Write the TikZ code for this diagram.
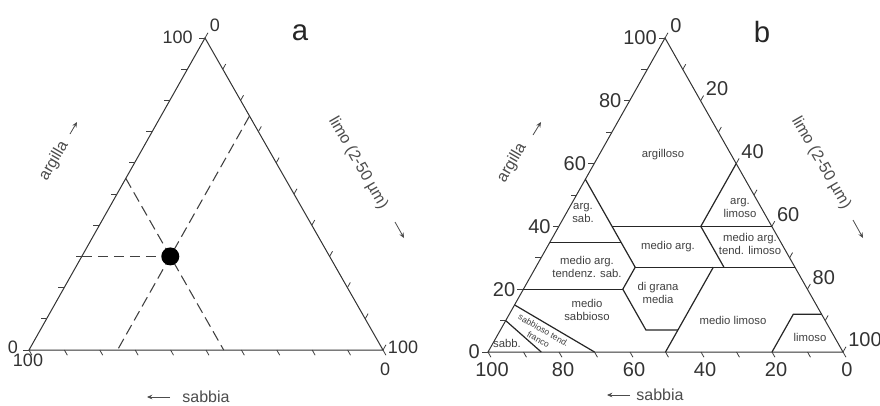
\documentclass[tikz,border=0pt]{standalone}
\usepackage{fontspec}
\setmainfont{Liberation Sans}
\usetikzlibrary{arrows.meta}
\begin{document}
\begin{tikzpicture}[x=0.75pt,y=-0.75pt,
  side/.style={draw=black!80, line width=0.75pt},
  tickmark/.style={draw=black!75, line width=0.6pt},
  zone/.style={draw=black!85, line width=0.9pt},
  guide/.style={draw=black!75, line width=0.8pt, dash pattern=on 8pt off 4pt},
  numA/.style={font=\fontsize{13.5}{14}\selectfont, text=black!80, inner sep=0pt},
  numB/.style={font=\fontsize{15}{16}\selectfont, text=black!80, inner sep=0pt},
  axlab/.style={font=\fontsize{12}{13}\selectfont, text=black!70, inner sep=0pt},
  zlab/.style={font=\fontsize{8.5}{10}\selectfont, text=black!75, align=center, inner sep=0pt},
  axarrow/.style={draw=black!70, line width=0.6pt, -{Stealth[length=4pt,width=3.5pt]}},
  panel/.style={font=\fontsize{22}{24}\selectfont, text=black!85, inner sep=0pt}
]
\path[use as bounding box, fill=white] (0,0) rectangle (880,405);

% ---------------- panel a ----------------
\begin{scope}[shift={(29,350)}, x={(2.655pt,0pt)}, y={(1.32pt,2.34pt)}]
  \coordinate (aL) at (0,0);
  \coordinate (aR) at (100,0);
  \coordinate (aT) at (0,100);
  \draw[side] (aL) -- (aR) -- (aT) -- cycle;
  \foreach \v in {0,10,...,100} {
    \pgfmathtruncatemacro\c{100-\v}
    \draw[tickmark] (0,\v) -- ++(-4.5pt,0pt);
    \draw[tickmark] (\v,\c) -- ++(2.2pt,3.9pt);
    \draw[tickmark] (\v,0) -- ++(2.2pt,-3.9pt);
  }
  \coordinate (P) at (25,30);
  \coordinate (g1) at (0,30);
  \coordinate (g2a) at (0,55);
  \coordinate (g2b) at (55,0);
  \coordinate (g3a) at (25,75);
  \coordinate (g3b) at (25,0);
  \draw[guide] (g1) -- (P);
  \draw[guide] (g2a) -- (g2b);
  \draw[guide] (g3a) -- (g3b);
  \fill[black] (P) circle (6.75pt);
\end{scope}
\node[numA, anchor=east] (a100t) at (193,37) {100};
\node[numA] (a0t) at (215,25) {0};
\node[numA] (a0l) at (13,347) {0};
\node[numA] (a100l) at (28,360) {100};
\node[numA] (a100r) at (403,347) {100};
\node[numA] (a0r) at (385,369) {0};
\node[panel, anchor=base] (pa) at (300,40) {a};
\node[axlab, rotate=60] (aarg) at (54,161) {argilla};
\coordinate (aarg1) at (70,134); \coordinate (aarg2) at (77,122);
\draw[axarrow] (aarg1) -- (aarg2);
\node[axlab, rotate=-60] (alim) at (358,163) {limo (2-50 µm)};
\coordinate (alim1) at (395,222); \coordinate (alim2) at (404,238);
\draw[axarrow] (alim1) -- (alim2);
\node[axlab] (asab) at (206,397) {sabbia};
\coordinate (asab1) at (170,397); \coordinate (asab2) at (147,397);
\draw[axarrow] (asab1) -- (asab2);

% ---------------- panel b ----------------
\begin{scope}[shift={(488,352)}, x={(2.6625pt,0pt)}, y={(1.3275pt,2.355pt)}]
  \coordinate (bL) at (0,0);
  \coordinate (bR) at (100,0);
  \coordinate (bT) at (0,100);
  \draw[side] (bL) -- (bR) -- (bT) -- cycle;
  \foreach \v in {0,10,...,100} {
    \pgfmathtruncatemacro\c{100-\v}
    \draw[tickmark] (0,\v) -- ++(-4.5pt,0pt);
    \draw[tickmark] (\v,\c) -- ++(2.2pt,3.9pt);
    \draw[tickmark] (\v,0) -- ++(2.2pt,-3.9pt);
  }
  \foreach \v in {0,20,...,100} {
    \pgfmathtruncatemacro\c{100-\v}
    \node[numB, anchor=east, xshift=-6pt] at (0,\v) {\v};
    \node[numB, anchor=west, xshift=3.75pt, yshift=9pt] at (\v,\c) {\v};
    \node[numB, anchor=north, xshift=3pt, yshift=-8pt] at (\v,0) {\c};
  }
  % class boundaries
  \draw[zone] (0,55) -- (28,27) -- (28,20) -- (41,7) -- (50,7);
  \draw[zone] (15,40) -- (60,40);
  \draw[zone] (0,35) -- (20,35);
  \draw[zone] (28,27) -- (73,27);
  \draw[zone] (0,20) -- (28,20);
  \draw[zone] (50,27) -- (50,0);
  \draw[zone] (40,60) -- (40,40) -- (53,27);
  \draw[zone] (80,0) -- (80,12) -- (88,12);
  \draw[zone] (0,15) -- (30,0);
  \draw[zone] (0,10) -- (15,0);
\end{scope}
\node[panel, anchor=base] (pb) at (762,42) {b};
\node[axlab, rotate=60] (barg) at (512,163) {argilla};
\coordinate (barg1) at (533,135); \coordinate (barg2) at (541,122);
\draw[axarrow] (barg1) -- (barg2);
\node[axlab, rotate=-60] (blim) at (821,163) {limo (2-50 µm)};
\coordinate (blim1) at (853,220); \coordinate (blim2) at (863,238);
\draw[axarrow] (blim1) -- (blim2);
\node[axlab] (bsab) at (660,395) {sabbia};
\coordinate (bsab1) at (630,395); \coordinate (bsab2) at (607,395);
\draw[axarrow] (bsab1) -- (bsab2);

% class labels
\node[zlab] (z1) at (663,155) {argilloso};
\node[zlab] (z2) at (583,213) {arg.\\sab.};
\node[zlab] (z3) at (740,208) {arg.\\limoso};
\node[zlab] (z4) at (668,247) {medio arg.};
\node[zlab] (z5) at (750,244) {medio arg.\\tend. limoso};
\node[zlab] (z6) at (587,267) {medio arg.\\tendenz. sab.};
\node[zlab] (z7) at (658,293) {di grana\\media};
\node[zlab] (z8) at (587,310) {medio\\sabbioso};
\node[zlab] (z9) at (733,320) {medio limoso};
\node[zlab] (z10) at (810,337) {limoso};
\node[zlab] (z11) at (507,343) {sabb.};
\node[zlab, font=\fontsize{6.5}{8}\selectfont, rotate=-30] (z12) at (541,335) {sabbioso tend.\\franco};
\end{tikzpicture}
\end{document}
